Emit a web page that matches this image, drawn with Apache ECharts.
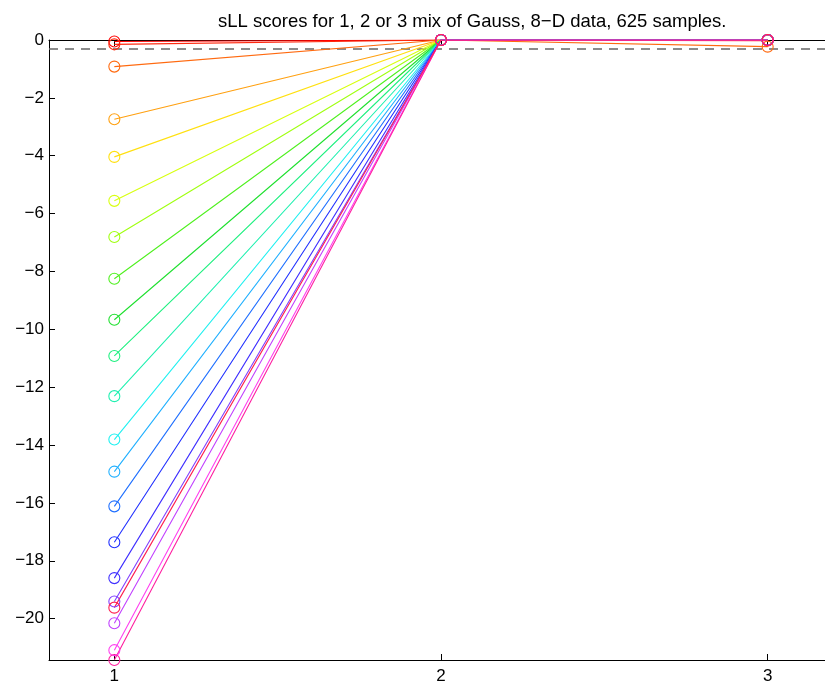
<!DOCTYPE html>
<html>
<head>
<meta charset="utf-8">
<script src="https://cdn.jsdelivr.net/npm/echarts@6/dist/echarts.min.js"></script>
<style>html,body{margin:0;padding:0;background:#fff;overflow:hidden;width:825px;height:686px}#c{width:833px;height:686px}</style>
</head>
<body>
<div id="c"></div>
<script>
// data
const titleText = 'sLL scores for 1, 2 or 3 mix of Gauss, 8\u2212D data, 625 samples.';
const xCategories = [1, 2, 3];
const scoresK1 = [-0.05, -0.15, -0.92, -2.74, -4.04, -5.56, -6.81, -8.25, -9.67, -10.92, -12.31, -13.81, -14.92, -16.12, -17.36, -18.60, -19.41, -20.16, -21.09, -21.43, -19.62];
const scoresK2 = [0, 0, 0, 0, 0, 0, 0, 0, 0, 0, 0, 0, 0, 0, 0, 0, 0, 0, 0, 0, 0];
const scoresK3 = [0, -0.02, -0.23, 0, 0, 0, 0, 0, 0, 0, 0, 0, 0, 0, 0, 0, 0, 0, 0, 0, 0];
const thresholdValue = -0.31;
const yTicks = [0, -2, -4, -6, -8, -10, -12, -14, -16, -18, -20];
const xTicks = [1, 2, 3];
const palette = ['#FF0000','#FF2A10','#FF6A10','#FFA010','#FFE010','#D8FF10','#A0FF10','#50F020','#20E030','#20F080','#20F0B0','#20F0F0','#20B0FF','#2070FF','#2030FF','#4030FF','#8040FF','#C040FF','#FF40F0','#FF20A0','#FF2050'];

const fmt = v => String(v).replace('-', '\u2212');
const series = scoresK1.map((v, i) => ({
  type: 'line',
  data: [[xCategories[0], v], [xCategories[1], scoresK2[i]], [xCategories[2], scoresK3[i]]],
  symbol: 'circle',
  symbolSize: 11,
  showSymbol: true,
  lineStyle: { color: palette[i], width: 1.1 },
  itemStyle: { color: 'rgba(0,0,0,0)', borderColor: palette[i], borderWidth: 1.1 },
  emphasis: { disabled: true },
  z: 3
}));
series.push({
  type: 'line',
  data: [[0.8, thresholdValue], [3.2, thresholdValue]],
  symbol: 'none',
  lineStyle: { color: '#666666', width: 1.5, type: [9, 7] },
  z: 2
});

const chart = echarts.init(document.getElementById('c'), null, { renderer: 'canvas' });
chart.setOption({
  animation: false,
  backgroundColor: '#fff',
  title: {
    text: titleText,
    left: 213, top: 7,
    textStyle: { fontFamily: 'Liberation Sans', fontSize: 18.5, fontWeight: 'normal', color: '#000' }
  },
  grid: { left: 49, top: 40, right: 0, bottom: 26 },
  xAxis: [{
    type: 'value', min: 0.8, max: 3.2, position: 'bottom',
    axisLine: { onZero: false, lineStyle: { color: '#000', width: 1 } },
    axisTick: { inside: true, length: 6, customValues: xTicks, lineStyle: { color: '#000' } },
    axisLabel: { customValues: xTicks, margin: 8, color: '#000', fontFamily: 'Liberation Sans', fontSize: 17, formatter: fmt },
    splitLine: { show: false }
  }, {
    type: 'value', min: 0.8, max: 3.2, position: 'top',
    axisLine: { onZero: false, lineStyle: { color: '#000', width: 1 } },
    axisTick: { inside: true, length: 6, customValues: xTicks, lineStyle: { color: '#000' } },
    axisLabel: { show: false },
    splitLine: { show: false }
  }],
  yAxis: {
    type: 'value', min: -21.43, max: 0,
    axisLine: { onZero: false, lineStyle: { color: '#000', width: 1 } },
    axisTick: { inside: true, length: 6, customValues: yTicks, lineStyle: { color: '#000' } },
    axisLabel: { customValues: yTicks, margin: 5, color: '#000', fontFamily: 'Liberation Sans', fontSize: 17, formatter: fmt },
    splitLine: { show: false }
  },
  series: series
});
</script>
</body>
</html>
